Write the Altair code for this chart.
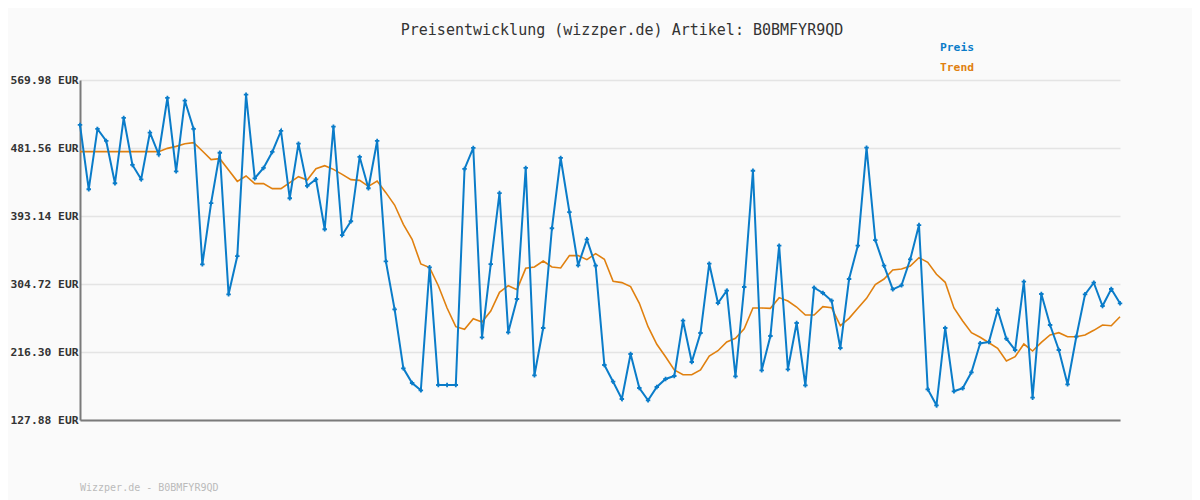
import altair as alt
import pandas as pd

preis = [511.5, 427.9, 506.3, 490.7, 435.7, 520.6, 459.5, 440.9, 501.5, 473.4,
         546.6, 451.3, 543.1, 506.3, 330.3, 410.0, 475.4, 291.3, 341.1, 550.9,
         442.2, 455.6, 476.4, 503.7, 416.2, 487.2, 432.2, 440.9, 375.9, 509.3,
         368.4, 386.3, 469.9, 429.2, 490.7, 334.2, 271.8, 195.1, 176.0, 166.5,
         326.4, 173.4, 173.4, 173.4, 454.3, 481.6, 235.4, 330.7, 423.0, 241.9,
         285.2, 455.6, 186.0, 247.5, 377.2, 468.6, 398.3, 329.0, 362.8, 328.5,
         199.4, 177.7, 155.2, 213.7, 169.5, 153.5, 170.8, 181.2, 185.1, 257.0,
         203.3, 241.0, 331.1, 280.0, 296.0, 184.7, 300.8, 452.0, 192.5, 237.1,
         354.5, 193.8, 254.0, 173.0, 299.9, 293.0, 283.0, 221.5, 311.2, 354.5,
         482.0, 361.9, 328.5, 297.8, 303.0, 336.8, 381.4, 167.8, 147.0, 247.5,
         165.2, 169.1, 189.9, 227.6, 229.3, 270.9, 233.6, 218.9, 307.7, 156.9,
         291.7, 251.4, 218.9, 174.3, 236.2, 291.3, 306.4, 276.1, 298.2, 279.6]

trend = [476.8, 476.8, 476.8, 476.8, 476.8, 476.8, 476.8, 476.8, 476.8, 476.8,
         481.1, 483.7, 487.2, 488.5, 477.7, 466.4, 467.7, 453.0, 438.2, 445.2,
         435.2, 435.2, 428.7, 428.7, 436.5, 444.3, 440.0, 454.7, 458.6, 453.8,
         447.3, 440.4, 439.5, 431.7, 438.7, 423.5, 407.4, 382.3, 362.8, 330.7,
         326.0, 302.5, 273.5, 249.2, 245.8, 259.6, 255.3, 269.6, 293.9, 302.5,
         297.4, 325.1, 326.8, 334.6, 326.8, 325.5, 341.6, 341.6, 336.4, 344.2,
         336.8, 308.2, 306.5, 301.3, 279.6, 249.2, 226.3, 210.2, 192.9, 186.8,
         186.8, 192.9, 211.1, 218.0, 229.3, 234.1, 246.6, 273.5, 273.5, 273.1,
         287.0, 282.6, 274.8, 264.4, 264.4, 275.2, 273.9, 250.5, 260.1, 273.1,
         286.1, 303.9, 311.2, 322.9, 324.2, 328.1, 339.0, 332.9, 317.3, 306.9,
         273.5, 256.6, 241.4, 235.4, 228.4, 221.1, 204.6, 210.2, 226.7, 217.6,
         228.9, 238.4, 241.4, 236.2, 236.2, 238.4, 244.5, 251.4, 250.5, 262.2]

y_ticks = [127.88, 216.30, 304.72, 393.14, 481.56, 569.98]
series_names = ["Preis", "Trend"]
series_colors = ["#0a7cc9", "#e0800f"]
title_text = "Preisentwicklung (wizzper.de) Artikel: B0BMFYR9QD"
footer_text = "Wizzper.de - B0BMFYR9QD"

MONO = "DejaVu Sans Mono"

n = len(preis)
df = pd.DataFrame({
    "i": list(range(n)) * 2,
    "wert": preis + trend,
    "serie": ["Preis"] * n + ["Trend"] * n,
})
df_preis = df[df.serie == "Preis"]
df_trend = df[df.serie == "Trend"]

x_enc = alt.X("i:Q", scale=alt.Scale(domain=[0, n - 1], nice=False, zero=False),
              axis=alt.Axis(labels=False, ticks=False, grid=False, title=None,
                            domainColor="#7a7a7a", domainWidth=2))
y_scale = alt.Scale(domain=[y_ticks[0], y_ticks[-1]], nice=False, zero=False)
y_enc = alt.Y("wert:Q", scale=y_scale,
              axis=alt.Axis(values=y_ticks, title=None, ticks=False,
                            labelExpr="format(datum.value, '.2f') + ' EUR'",
                            labelFont=MONO, labelFontSize=11.3, labelFontWeight="bold",
                            labelColor="#333333", labelPadding=2,
                            grid=True, gridColor="#e4e4e4", gridWidth=1.5,
                            domainColor="#7a7a7a", domainWidth=2))

color_scale = alt.Scale(domain=series_names, range=series_colors)

trend_line = alt.Chart(df_trend).mark_line(strokeWidth=1.6).encode(
    x=x_enc, y=y_enc,
    color=alt.Color("serie:N", scale=color_scale, legend=None))

preis_line = alt.Chart(df_preis).mark_line(strokeWidth=2).encode(
    x="i:Q", y="wert:Q",
    color=alt.Color("serie:N", scale=color_scale, legend=None))

preis_pts = alt.Chart(df_preis).mark_point(shape="cross", filled=True, size=20, opacity=1).encode(
    x="i:Q", y="wert:Q",
    color=alt.Color("serie:N", scale=color_scale, legend=None))

legend_layers = []
for k, (name, col) in enumerate(zip(series_names, series_colors)):
    ldf = pd.DataFrame({"serie": [name]})
    legend_layers.append(
        alt.Chart(ldf).mark_text(
            font=MONO, fontSize=11.3, fontWeight="bold", align="left",
            baseline="middle", color=col
        ).encode(text="serie:N", x=alt.value(860), y=alt.value(-32 + 20 * k))
    )

footer_df = pd.DataFrame({"t": [footer_text]})
footer = alt.Chart(footer_df).mark_text(
    font=MONO, fontSize=10, color="#bbbbbb", align="left", baseline="middle"
).encode(text="t:N", x=alt.value(0), y=alt.value(408))

chart = alt.layer(trend_line, preis_line, preis_pts, *legend_layers, footer).properties(
    width=1040, height=340,
    padding={"left": 72, "top": 72, "right": 72, "bottom": 80},
    autosize=alt.AutoSizeParams(type="none"),
    background="#fafafa",
    title=alt.TitleParams(title_text, font=MONO, fontSize=15, fontWeight="normal",
                          color="#333333", anchor="middle", dx=22, offset=4),
).configure_view(stroke=None)

chart.save("out.html", embed_options={"renderer": "svg", "actions": False})
